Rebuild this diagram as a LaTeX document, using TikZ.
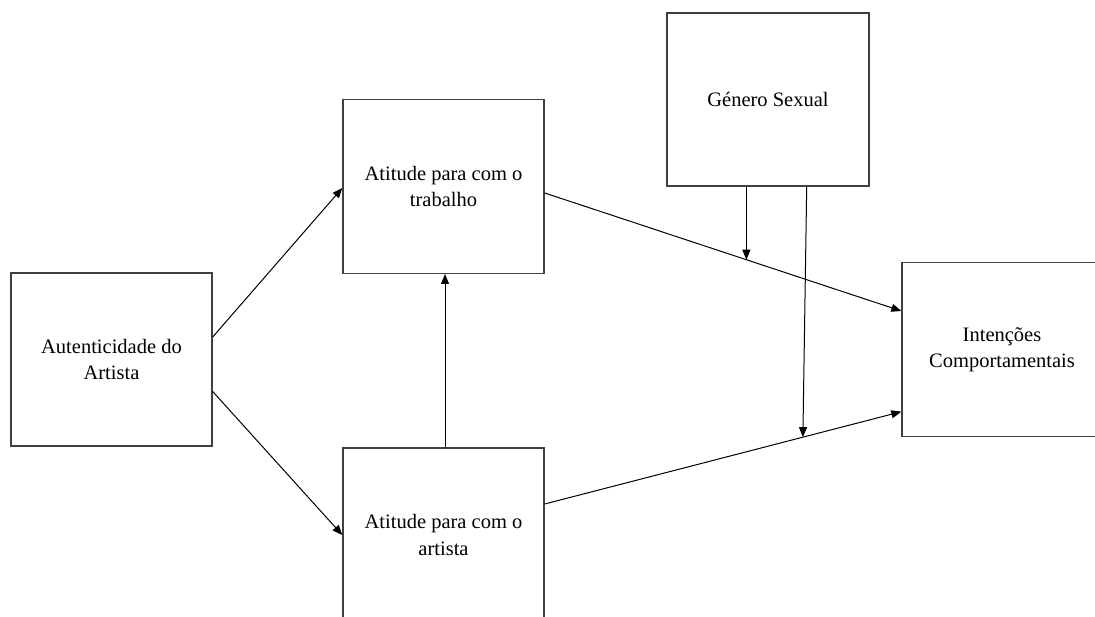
\documentclass[tikz,border=0pt]{standalone}
\usepackage{fontspec}
\setmainfont{Liberation Serif}
\usetikzlibrary{arrows.meta,calc}
\begin{document}
\begin{tikzpicture}[x=1pt,y=-1pt,
  box/.style={draw=black!75, line width=1.4pt, fill=white, align=center,
    font=\fontsize{20.5}{26.5}\selectfont, inner sep=0pt},
  link/.style={line width=1pt, -{Triangle[length=10pt,width=8pt]}}]
\useasboundingbox (0,0) rectangle (1095,617);
\clip (0,0) rectangle (1095,617);
\fill[white] (0,0) rectangle (1095,617);

% construct boxes
\node[box, minimum width=201pt, minimum height=173pt] (aut) at (111.5,359.5)
  {Autenticidade do\\Artista};
\node[box, minimum width=201pt, minimum height=174pt] (trab) at (443.5,186.3)
  {Atitude para com o\\trabalho};
\node[box, minimum width=201pt, minimum height=174pt] (art) at (443.5,535)
  {Atitude para com o\\artista};
\node[box, minimum width=202pt, minimum height=173pt] (gen) at (768,99.5)
  {Género Sexual};
\node[box, minimum width=200pt, minimum height=174pt] (int) at (1002,349.7)
  {Intenções\\Comportamentais};

% direct paths
\draw[link] ([yshift=22.5pt]aut.east) -- ([yshift=-1.7pt]trab.west);
\draw[link] ([yshift=-32pt]aut.east) -- (art.west);
\draw[link] ([xshift=1.5pt]art.north) -- ([xshift=1.5pt]trab.south);

\coordinate (s4) at ([yshift=-6.7pt]trab.east);
\coordinate (e4) at ([yshift=38.7pt]int.west);
\coordinate (s5) at ([yshift=31pt]art.east);
\coordinate (e5) at ([yshift=-62pt]int.west);
\draw[link] (s4) -- (e4);
\draw[link] (s5) -- (e5);

% moderation by gender
\coordinate (m1) at ($(s4)!0.5656!(e4)$);
\coordinate (m2) at ($(s5)!0.724!(e5)$);
\draw[link] (gen.south -| m1) -- (m1);
\draw[link] ([xshift=38.7pt]gen.south) -- (m2);
\end{tikzpicture}
\end{document}
